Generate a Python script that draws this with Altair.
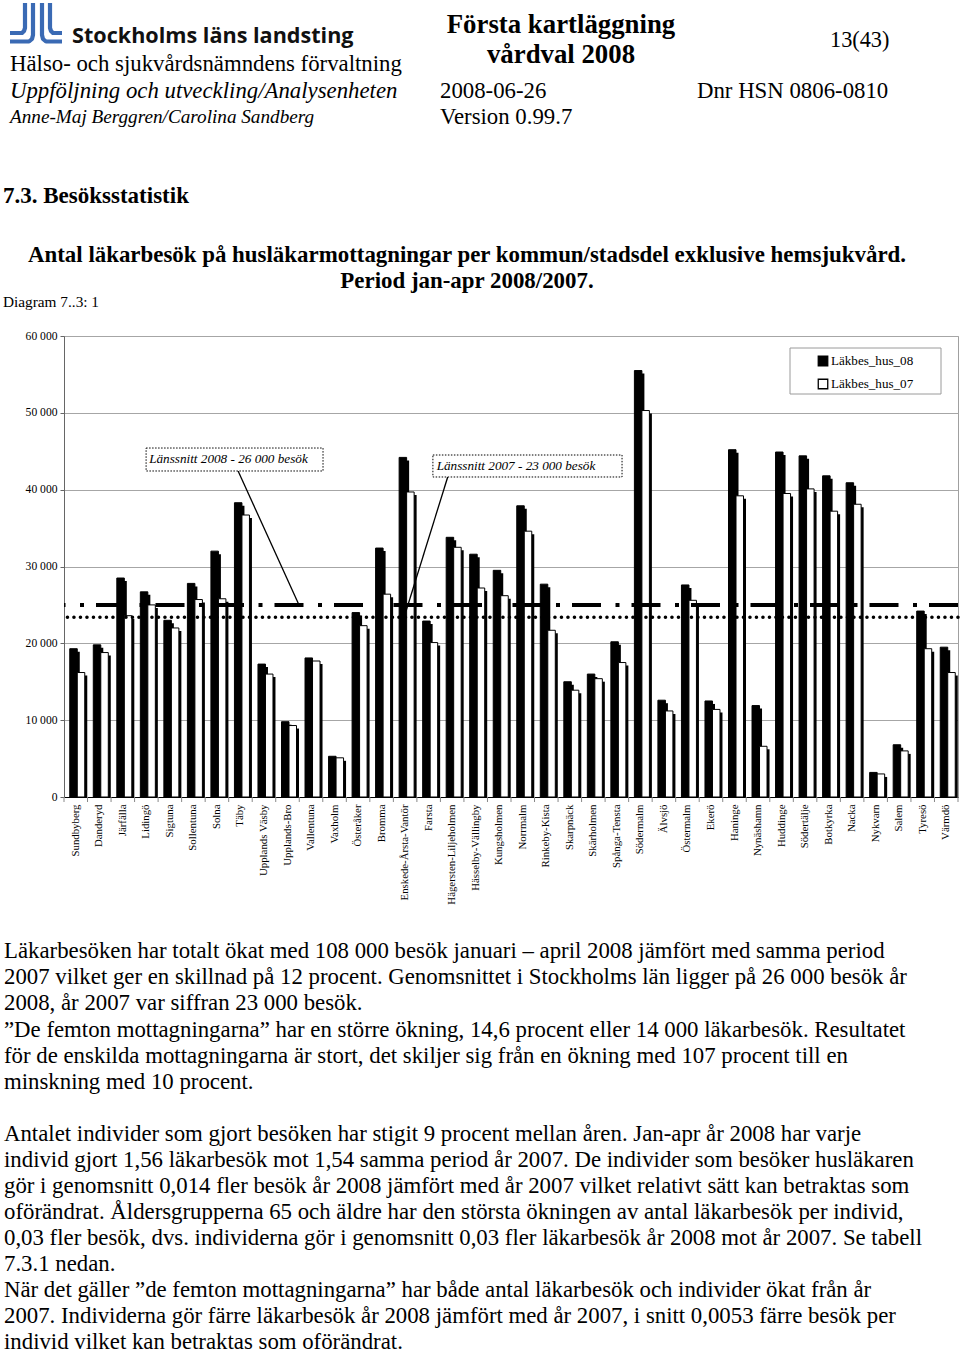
import altair as alt
import pandas as pd

# ---------------- data ----------------
categories = ["Sundbyberg", "Danderyd", "Järfälla", "Lidingö", "Sigtuna", "Sollentuna", "Solna", "Täby",
              "Upplands Väsby", "Upplands-Bro", "Vallentuna", "Vaxholm", "Österåker", "Bromma",
              "Enskede-Årsta-Vantör", "Farsta", "Hägersten-Liljeholmen", "Hässelby-Vällingby", "Kungsholmen",
              "Norrmalm", "Rinkeby-Kista", "Skarpnäck", "Skärholmen", "Spånga-Tensta", "Södermalm", "Älvsjö",
              "Östermalm", "Ekerö", "Haninge", "Nynäshamn", "Huddinge", "Södertälje", "Botkyrka", "Nacka",
              "Nykvarn", "Salem", "Tyresö", "Värmdö"]
lakbes_hus_08 = [19300, 19800, 28500, 26700, 23000, 27800, 32000, 38300, 17300, 9800, 18100, 5300, 24000,
                 32400, 44200, 22900, 33800, 31600, 29500, 37900, 27700, 15000, 16000, 20200, 55500, 12600,
                 27600, 12500, 45200, 11900, 44900, 44400, 41800, 40900, 3200, 6800, 24200, 19500]
lakbes_hus_07 = [16200, 18800, 23600, 25000, 22000, 25700, 25800, 36700, 16000, 9300, 17700, 5100, 22300,
                 26400, 39700, 20100, 32500, 27200, 26200, 34600, 21700, 13900, 15400, 17500, 50300, 11200,
                 25600, 11400, 39200, 6600, 39500, 40100, 37200, 38100, 3000, 6000, 19300, 16200]
series_names = ["Läkbes_hus_08", "Läkbes_hus_07"]
y_ticks = [0, 10000, 20000, 30000, 40000, 50000, 60000]
y_domain = [0, 60000]
lanssnitt_levels = [25000, 23400]          # where the two average lines are drawn
annot_texts = ["Länssnitt 2008 - 26 000 besök", "Länssnitt 2007 - 23 000 besök"]
# annotation boxes / leader lines in (category-index, value) units
annot_box_x0 = [3.49, 15.68]
annot_box_x1 = [11.01, 23.72]
annot_box_top = [45420, 44510]
annot_box_bottom = [42430, 41650]
annot_text_x = [3.62, 15.84]
annot_text_y = [43950, 43080]
leader_x0 = [7.40, 16.31]
leader_y0 = [42430, 41650]
leader_x1 = [9.99, 14.54]
leader_y1 = [24990, 24210]

header_left = ["Hälso- och sjukvårdsnämndens förvaltning"]
header_italic = ["Uppföljning och utveckling/Analysenheten"]
header_authors = ["Anne-Maj Berggren/Carolina Sandberg"]
header_title = ["Första kartläggning", "vårdval 2008"]
header_page = ["13(43)"]
header_date = ["2008-06-26", "Version 0.99.7"]
header_dnr = ["Dnr HSN 0806-0810"]
org_name = ["Stockholms läns landsting"]
section_title = ["7.3. Besöksstatistik"]
chart_title = ["Antal läkarbesök på husläkarmottagningar per kommun/stadsdel exklusive hemsjukvård.",
               "Period jan-apr 2008/2007."]
diagram_label = ["Diagram 7..3: 1"]
body_para1 = [
    "Läkarbesöken har totalt ökat med 108 000 besök januari – april 2008 jämfört med samma period",
    "2007 vilket ger en skillnad på 12 procent.  Genomsnittet i Stockholms län ligger på 26 000 besök år",
    "2008, år 2007 var siffran 23 000 besök.",
    "”De femton mottagningarna” har en större ökning, 14,6 procent eller 14 000 läkarbesök. Resultatet",
    "för de enskilda mottagningarna är stort, det skiljer sig från en ökning med 107 procent till en",
    "minskning med 10 procent.",
]
body_para2 = [
    "Antalet individer som gjort besöken har stigit 9 procent mellan åren. Jan-apr år 2008 har varje",
    "individ gjort 1,56 läkarbesök mot 1,54 samma period år 2007. De individer som besöker husläkaren",
    "gör i genomsnitt 0,014 fler besök år 2008 jämfört med år 2007 vilket relativt sätt kan betraktas som",
    "oförändrat. Åldersgrupperna 65 och äldre har den största ökningen av antal läkarbesök per individ,",
    "0,03 fler besök, dvs. individerna gör i genomsnitt 0,03 fler läkarbesök år 2008 mot år 2007. Se tabell",
    "7.3.1 nedan.",
    "När det gäller ”de femton mottagningarna” har både antal läkarbesök och individer ökat från år",
    "2007. Individerna gör färre läkarbesök år 2008 jämfört med år 2007, i snitt 0,0053 färre besök per",
    "individ vilket kan betraktas som oförändrat.",
]

# ---------------- layout ----------------
LEFT, TOP, W, H = 64, 336, 894, 461
SERIF = "Liberation Serif"
N = len(categories)

df08 = pd.DataFrame({"category": categories, "value": lakbes_hus_08})
df07 = pd.DataFrame({"category": categories, "value": lakbes_hus_07})

xband = alt.Scale(domain=categories, paddingInner=0, paddingOuter=0)
ysc = alt.Scale(domain=y_domain)
BW = 7.5

x_axis = alt.Axis(labelAngle=270, labelFont=SERIF, labelFontSize=10.8, labelColor="black",
                  ticks=False, domainColor="black", labelPadding=7, title=None, grid=False)
y_axis = alt.Axis(values=y_ticks, labelExpr="replace(format(datum.value, ','), ',', ' ')",
                  grid=True, gridColor="#a6a6a6", gridWidth=1, tickSize=4, tickColor="#666",
                  domainColor="#666", labelFont=SERIF, labelFontSize=11.6, labelColor="black",
                  labelPadding=3, title=None)


def Y(field):
    return alt.Y(field, scale=ysc, axis=y_axis, title=None)


def bars(df, fill, off, shadow):
    if shadow:
        m = alt.Chart(df).mark_bar(width=BW, xOffset=off + 2.5, yOffset=3, y2Offset=3,
                                   color="black", clip=True)
    else:
        m = alt.Chart(df).mark_bar(width=BW, xOffset=off, fill=fill, stroke="black", strokeWidth=1)
    return m.encode(
        x=alt.X("category:N", sort=categories, scale=xband, axis=x_axis, title=None),
        y=Y("value:Q"),
    )


bar_group = alt.layer(
    bars(df08, "black", -2.25, True),
    bars(df07, "white", 5.25, True),
    bars(df08, "black", -2.25, False),
    bars(df07, "white", 5.25, False),
)

idx_scale = alt.Scale(domain=[0, N])

ticks_df = pd.DataFrame({"i": list(range(N + 1))})
ticks = alt.Chart(ticks_df).mark_rule(color="#888", strokeWidth=1).encode(
    x=alt.X("i:Q", scale=idx_scale, axis=None), y=alt.value(H), y2=alt.value(H + 5))

ref08 = alt.Chart(pd.DataFrame({"v": [lanssnitt_levels[0]]})).mark_rule(
    color="black", strokeWidth=4, strokeDash=[29, 12, 4, 14.5]).encode(y=Y("v:Q"))
ref07 = alt.Chart(pd.DataFrame({"v": [lanssnitt_levels[1]]})).mark_rule(
    color="black", strokeWidth=3.5, strokeDash=[0.1, 6.4], strokeCap="round").encode(y=Y("v:Q"))

ann_df = pd.DataFrame({"t": annot_texts, "x0": annot_box_x0, "x1": annot_box_x1,
                       "yt": annot_box_top, "yb": annot_box_bottom,
                       "tx": annot_text_x, "ty": annot_text_y,
                       "lx0": leader_x0, "ly0": leader_y0, "lx1": leader_x1, "ly1": leader_y1})
leaders = alt.Chart(ann_df).mark_rule(color="black", strokeWidth=1.3).encode(
    x=alt.X("lx0:Q", scale=idx_scale, axis=None), x2="lx1:Q",
    y=Y("ly0:Q"), y2="ly1:Q")
boxes = alt.Chart(ann_df).mark_rect(fill="white", stroke="black", strokeWidth=1, strokeDash=[1.5, 1.5]).encode(
    x=alt.X("x0:Q", scale=idx_scale, axis=None), x2="x1:Q",
    y=Y("yt:Q"), y2="yb:Q")
ann_text = alt.Chart(ann_df).mark_text(align="left", baseline="middle", font=SERIF, fontSize=13.2,
                                       fontStyle="italic", color="black").encode(
    x=alt.X("tx:Q", scale=idx_scale, axis=None), y=Y("ty:Q"), text="t:N")

data_layers = alt.layer(bar_group, ref08, ref07, leaders, boxes, ann_text, ticks).resolve_scale(x="independent")


def px(vals):
    return [v - LEFT for v in vals]


def py(vals):
    return [v - TOP for v in vals]


def text_layer(lines, xs, ys, size, font=SERIF, weight="normal", style="normal", align="left", color="black"):
    d = pd.DataFrame({"t": lines, "px": px(xs), "py": py(ys)})
    return alt.Chart(d).mark_text(align=align, baseline="middle", font=font, fontSize=size,
                                  fontWeight=weight, fontStyle=style, color=color).encode(
        x=alt.X("px:Q", scale=None), y=alt.Y("py:Q", scale=None), text="t:N")


# legend (manual)
leg_box = alt.Chart(pd.DataFrame({"a": [px([790])[0]], "b": [px([941])[0]],
                                  "c": [py([348])[0]], "d": [py([394])[0]]})).mark_rect(
    fill="white", stroke="#9a9a9a", strokeWidth=1).encode(
    x=alt.X("a:Q", scale=None), x2="b:Q", y=alt.Y("c:Q", scale=None), y2="d:Q")
leg_sym = alt.Chart(pd.DataFrame({"s": series_names, "px": px([823, 823]), "py": py([361, 384])})).mark_square(
    size=90, stroke="black", strokeWidth=1.3, opacity=1).encode(
    x=alt.X("px:Q", scale=None), y=alt.Y("py:Q", scale=None),
    fill=alt.Fill("s:N", scale=alt.Scale(domain=series_names, range=["black", "white"]), legend=None))
leg_txt = text_layer(series_names, [831, 831], [361, 384], 13.1)

# logo
logo_pts = {
    "a": [(25, 3), (25, 28), (24, 31), (22, 33), (10, 33)],
    "b": [(33, 3), (33, 35), (32, 39), (29, 41.5), (10, 41.5)],
    "c": [(42, 3), (42, 35), (43, 39), (46, 41.5), (62, 41.5)],
    "d": [(50, 3), (50, 28), (51, 31), (53, 33), (62, 33)],
}
logo_rows = []
for k, pts in logo_pts.items():
    for o, (xx, yy) in enumerate(pts):
        logo_rows.append({"id": k, "o": o, "px": xx - LEFT, "py": yy - TOP})
logo = alt.Chart(pd.DataFrame(logo_rows)).mark_line(color="#3a6ab4", strokeWidth=4.2,
                                                     strokeJoin="round").encode(
    x=alt.X("px:Q", scale=None), y=alt.Y("py:Q", scale=None), detail="id:N", order="o:Q")

BODY = 22.8
texts = [
    text_layer(org_name, [72], [37], 21.6, font="Open Sans", weight="bold", color="#111"),
    text_layer(header_left, [10], [64], 22.8),
    text_layer(header_italic, [10], [91], 22.8, style="italic"),
    text_layer(header_authors, [10], [117], 19.2, style="italic"),
    text_layer(header_title, [561, 561], [25, 55], 26.8, weight="bold", align="center"),
    text_layer(header_page, [830], [40], 22.3),
    text_layer(header_date, [440, 440], [91, 117], 22.8),
    text_layer(header_dnr, [697], [91], 22.8),
    text_layer(section_title, [3], [196], 23, weight="bold"),
    text_layer(chart_title, [467, 467], [255, 281], 22.9, weight="bold", align="center"),
    text_layer(diagram_label, [3], [302], 15.3),
    text_layer(body_para1, [4] * len(body_para1), [951 + 26.2 * i for i in range(len(body_para1))], BODY),
    text_layer(body_para2, [4] * len(body_para2), [1133.5 + 26.0 * i for i in range(len(body_para2))], BODY),
]

chart = alt.layer(
    data_layers, leg_box, leg_sym, leg_txt, logo, *texts
).resolve_scale(x="independent", y="independent").properties(
    width=W, height=H,
    autosize=alt.AutoSizeParams(type="none"),
    padding={"left": LEFT, "top": TOP, "right": 960 - LEFT - W, "bottom": 1353 - TOP - H},
    background="white",
).configure_view(stroke="#a0a0a0")

chart.save("out.html", embed_options={"renderer": "svg", "actions": False})
